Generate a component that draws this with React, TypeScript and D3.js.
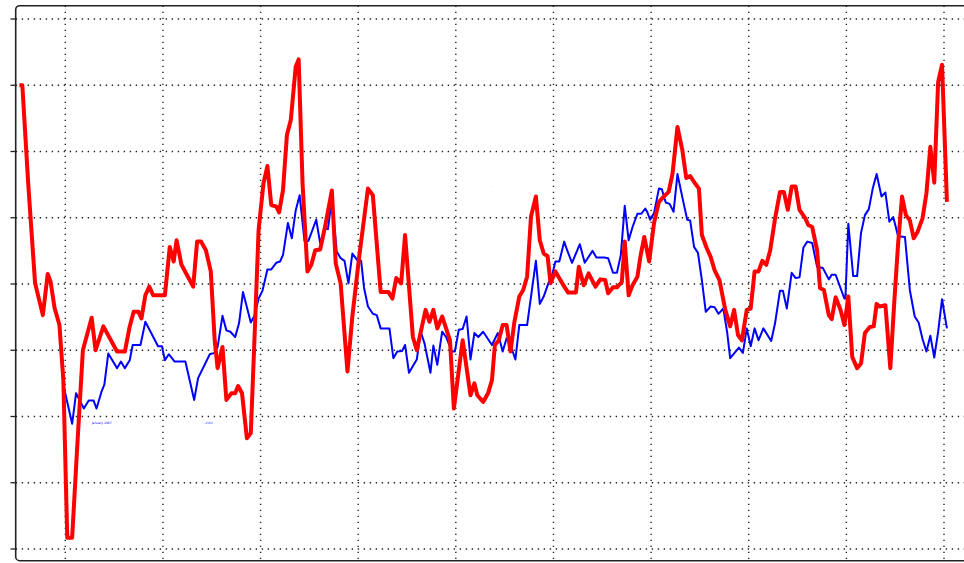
import React from "react";
import * as d3 from "d3";

const xTicks = [0, 1, 2, 3, 4, 5, 6, 7, 8, 9];
const yTicks = [-40, -30, -20, -10, 0, 10, 20, 30, 40];

const redX = [-0.47,-0.44,-0.38,-0.31,-0.23,-0.18,-0.15,-0.11,-0.06,-0.02,0.02,0.07,0.12,0.18,0.27,0.31,0.39,0.53,0.61,0.66,0.70,0.75,0.78,0.82,0.86,0.90,1.02,1.07,1.11,1.14,1.19,1.31,1.35,1.39,1.44,1.49,1.53,1.56,1.61,1.65,1.70,1.74,1.77,1.81,1.86,1.90,1.94,1.98,2.03,2.07,2.11,2.16,2.19,2.23,2.27,2.31,2.36,2.39,2.43,2.48,2.52,2.56,2.61,2.66,2.73,2.77,2.82,2.89,2.94,3.01,3.10,3.15,3.23,3.31,3.35,3.39,3.44,3.48,3.56,3.60,3.69,3.73,3.77,3.81,3.86,3.94,3.98,4.07,4.15,4.19,4.22,4.28,4.33,4.37,4.40,4.44,4.48,4.52,4.56,4.60,4.65,4.69,4.73,4.77,4.82,4.86,4.90,4.94,4.97,5.02,5.09,5.15,5.23,5.26,5.31,5.36,5.43,5.48,5.53,5.56,5.61,5.65,5.70,5.73,5.77,5.81,5.86,5.89,5.93,5.98,6.03,6.08,6.13,6.18,6.22,6.27,6.32,6.36,6.40,6.44,6.49,6.52,6.57,6.61,6.65,6.70,6.76,6.81,6.85,6.89,6.93,6.98,7.02,7.06,7.10,7.14,7.18,7.22,7.27,7.32,7.36,7.40,7.44,7.48,7.52,7.58,7.61,7.65,7.70,7.73,7.77,7.82,7.85,7.89,7.94,7.98,8.02,8.06,8.11,8.15,8.19,8.24,8.28,8.31,8.34,8.40,8.45,8.49,8.53,8.57,8.61,8.65,8.69,8.73,8.78,8.82,8.86,8.90,8.94,8.98,9.03];
const redY = [30.0,30.0,15.2,0.2,-4.7,1.5,0.3,-3.6,-6.2,-14.5,-38.3,-38.3,-25.1,-10.0,-5.1,-10.0,-6.4,-10.2,-10.2,-6.4,-4.2,-4.2,-5.2,-1.7,-0.4,-1.7,-1.7,5.6,3.4,6.6,2.9,-0.4,6.4,6.4,5.1,1.9,-8.5,-12.7,-9.5,-17.5,-16.5,-16.5,-15.4,-16.5,-23.3,-22.5,-7.4,8.2,15.2,17.8,11.9,11.7,10.8,14.2,22.5,24.8,32.8,33.9,15.2,1.9,2.9,5.1,5.2,8.6,14.1,3.1,0.1,-13.2,-4.9,4.1,14.4,13.4,-1.2,-1.2,-2.2,0.9,0.1,7.4,-8.0,-10.0,-3.9,-5.7,-3.9,-6.7,-4.9,-8.5,-18.8,-8.5,-16.8,-15.0,-16.8,-17.8,-16.5,-14.5,-9.2,-8.5,-6.2,-6.2,-10.2,-5.7,-1.9,-0.9,1.1,10.2,13.2,6.6,4.6,4.2,0.1,1.9,0.1,-1.3,-1.3,2.6,-0.2,1.6,-0.4,0.7,0.6,-1.4,-0.5,-0.5,0.3,6.4,-1.7,-0.2,1.1,4.1,7.1,3.4,9.2,12.4,13.2,13.9,16.7,23.7,20.2,16.0,16.3,15.4,14.4,7.4,5.4,4.1,2.1,0.6,-3.9,-6.4,-3.9,-7.7,-8.5,-3.9,-3.7,1.9,1.9,3.5,2.9,5.1,9.9,13.9,13.9,11.2,14.7,14.7,11.2,9.9,8.9,8.6,5.1,-0.6,-0.9,-4.7,-5.3,-2.0,-3.9,-6.2,-1.9,-11.0,-12.7,-12.0,-7.4,-6.5,-6.4,-3.0,-3.4,-3.2,-12.7,-2.9,6.1,13.2,10.4,9.6,6.9,7.9,9.9,13.7,20.7,15.3,30.5,33.1,12.4];

const blueX = [-0.02,0.07,0.11,0.19,0.24,0.29,0.32,0.37,0.40,0.44,0.53,0.57,0.61,0.66,0.69,0.77,0.82,0.95,0.99,1.02,1.06,1.12,1.23,1.32,1.36,1.48,1.53,1.56,1.61,1.65,1.69,1.74,1.78,1.82,1.90,1.94,1.98,2.02,2.07,2.11,2.16,2.20,2.23,2.28,2.32,2.36,2.40,2.45,2.49,2.57,2.61,2.66,2.69,2.73,2.78,2.82,2.86,2.90,2.94,2.99,3.03,3.06,3.10,3.15,3.19,3.23,3.32,3.36,3.40,3.45,3.48,3.52,3.60,3.64,3.68,3.74,3.77,3.81,3.86,3.90,3.96,3.99,4.03,4.07,4.11,4.15,4.19,4.23,4.28,4.37,4.43,4.48,4.52,4.56,4.61,4.65,4.73,4.82,4.86,4.90,4.95,4.98,5.02,5.06,5.11,5.14,5.19,5.27,5.32,5.40,5.44,5.52,5.56,5.61,5.65,5.69,5.73,5.77,5.81,5.86,5.90,5.94,5.96,5.99,6.03,6.08,6.11,6.15,6.19,6.23,6.27,6.33,6.37,6.40,6.44,6.48,6.52,6.56,6.61,6.65,6.69,6.74,6.78,6.81,6.90,6.94,6.98,7.02,7.06,7.10,7.15,7.23,7.27,7.32,7.35,7.39,7.44,7.48,7.52,7.56,7.60,7.65,7.70,7.76,7.82,7.85,7.89,7.98,7.99,8.02,8.07,8.11,8.15,8.19,8.23,8.27,8.31,8.36,8.40,8.44,8.48,8.53,8.60,8.65,8.70,8.74,8.78,8.82,8.86,8.90,8.94,8.98,9.03];
const blueY = [-15.2,-21.1,-16.5,-18.8,-17.6,-17.6,-18.8,-16.3,-15.2,-10.5,-12.7,-11.7,-12.7,-11.5,-9.2,-9.2,-5.7,-9.4,-9.4,-11.5,-10.6,-11.7,-11.7,-17.5,-14.2,-10.6,-10.4,-9.5,-4.8,-7.0,-7.2,-8.0,-5.9,-1.2,-5.8,-4.7,-2.2,-1.0,2.2,2.2,3.2,3.4,4.4,9.2,6.9,11.1,13.4,6.5,6.5,9.7,6.2,8.3,8.3,12.9,4.9,3.9,3.5,0.1,4.6,3.6,3.5,-0.6,-3.4,-4.5,-4.7,-6.7,-6.7,-11.2,-10.2,-10.1,-9.2,-13.4,-11.4,-7.2,-9.0,-13.4,-9.3,-12.2,-7.2,-8.0,-10.2,-10.2,-6.9,-6.8,-4.9,-11.4,-7.4,-8.0,-7.2,-9.2,-7.4,-10.2,-8.2,-9.2,-11.4,-6.2,-6.2,3.5,-3.0,-1.9,0.2,1.0,3.4,3.4,6.4,5.1,3.2,6.0,3.2,5.0,4.0,4.0,3.9,1.7,1.7,4.4,11.8,6.6,8.6,10.6,10.6,11.4,10.9,9.7,10.7,14.4,14.3,12.3,12.1,10.9,16.6,12.4,9.7,9.6,5.6,4.7,0.6,-4.2,-3.4,-3.5,-4.5,-3.7,-7.4,-11.2,-9.6,-10.4,-6.7,-9.4,-6.7,-8.5,-6.7,-8.6,-5.9,-1.0,-1.0,-3.7,1.7,0.9,1.0,5.5,6.4,6.2,2.6,2.4,0.7,1.4,1.4,-2.2,-2.2,9.1,1.2,1.2,7.7,10.4,11.3,14.4,16.6,13.2,13.8,9.4,10.1,7.2,7.1,-0.9,-4.9,-5.8,-8.3,-10.2,-7.8,-11.1,-7.2,-2.3,-6.7];

const noteText = ["January 2007", "- 2008", "-"];
const noteX = [0.27, 1.41, 4.36];
const noteY = [-21.2, -21.2, 14.6];
const noteColor = ["#0000ff", "#3355ff", "#ff3333"];

export default function App() {
  const W = 964, H = 563;
  const x = d3.scaleLinear().domain([0, 9]).range([65.3, 944]);
  const y = d3.scaleLinear().domain([-40, 40]).range([549, 19]);
  const red = redX.map((v, i) => [v, redY[i]] as [number, number]);
  const blue = blueX.map((v, i) => [v, blueY[i]] as [number, number]);
  const line = d3.line<[number, number]>().x(d => x(d[0])).y(d => y(d[1]));
  const frameL = 15.7, frameT = 5.7, frameB = 560.7;
  return (
    <svg width={W} height={H} style={{ position: "fixed", left: 0, top: 0, background: "#fff" }}>
      <rect x={0} y={0} width={W} height={H} fill="#fff" />
      {yTicks.map(t => (
        <g key={"y" + t}>
          <line x1={frameL} x2={W} y1={y(t)} y2={y(t)} stroke="#222" strokeWidth={1.4} strokeDasharray="1.4 4.6" />
          <line x1={10.5} x2={frameL} y1={y(t)} y2={y(t)} stroke="#222" strokeWidth={1.3} />
        </g>
      ))}
      {xTicks.map(t => (
        <g key={"x" + t}>
          <line x1={x(t)} x2={x(t)} y1={frameT} y2={H} stroke="#222" strokeWidth={1.4} strokeDasharray="1.4 4.6" />
        </g>
      ))}
      <rect x={frameL} y={frameT} width={W + 10} height={frameB - frameT} rx={4} fill="none" stroke="#222" strokeWidth={1.6} />
      <path d={line(blue) || ""} fill="none" stroke="#0000ff" strokeWidth={2} strokeLinejoin="round" />
      <path d={line(red) || ""} fill="none" stroke="#ff0000" strokeWidth={4} strokeLinejoin="round" />
      {noteText.map((s, i) => (
        <text key={"n" + i} x={x(noteX[i])} y={y(noteY[i])} fontSize={3} fill={noteColor[i]} fontFamily="DejaVu Sans">{s}</text>
      ))}
    </svg>
  );
}
